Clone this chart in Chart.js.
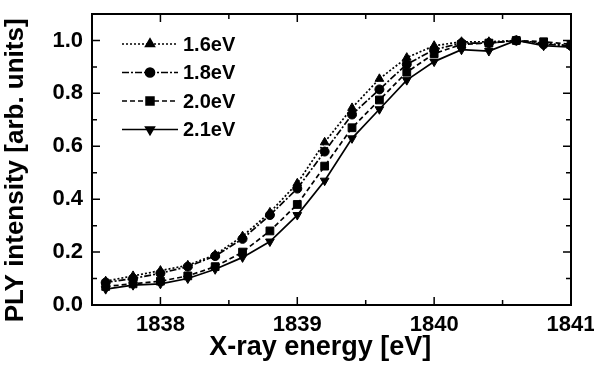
<!DOCTYPE html>
<html>
<head>
<meta charset="utf-8">
<script src="https://cdn.jsdelivr.net/npm/chart.js@4.4.0/dist/chart.umd.min.js"></script>
<style>
  html, body { margin: 0; padding: 0; background: #fff; }
  #wrap { width: 594px; height: 366px; }
</style>
</head>
<body>
<div id="wrap"><canvas id="plyChart"></canvas></div>
<script>
// X-ray energy [eV]
var energies = [1837.6, 1837.8, 1838.0, 1838.2, 1838.4, 1838.6, 1838.8, 1839.0, 1839.2,
                1839.4, 1839.6, 1839.8, 1840.0, 1840.2, 1840.4, 1840.6, 1840.8, 1841.0];

// PLY intensity per excitation energy
var ply16 = [0.09, 0.11, 0.13, 0.15, 0.19, 0.26, 0.35, 0.46, 0.615, 0.745, 0.855, 0.935, 0.98, 0.995, 0.995, 1.0, 0.99, 0.98];
var ply18 = [0.085, 0.10, 0.12, 0.145, 0.185, 0.25, 0.34, 0.44, 0.58, 0.72, 0.815, 0.91, 0.965, 0.99, 0.99, 1.0, 0.985, 0.98];
var ply20 = [0.07, 0.08, 0.09, 0.11, 0.145, 0.20, 0.28, 0.38, 0.525, 0.67, 0.775, 0.88, 0.95, 0.985, 0.99, 1.0, 0.995, 0.985];
var ply21 = [0.06, 0.075, 0.08, 0.10, 0.135, 0.18, 0.24, 0.34, 0.47, 0.63, 0.74, 0.85, 0.92, 0.965, 0.96, 1.0, 0.98, 0.975];

var seriesLabels = ["1.6eV", "1.8eV", "2.0eV", "2.1eV"];

// tick labels
var xTicks = [1838, 1839, 1840, 1841];
var yTicks = [0.0, 0.2, 0.4, 0.6, 0.8, 1.0];

function pts(ys) {
    return energies.map(function(e, i) { return { x: e, y: ys[i] }; });
}

var styles = [
    { dash: [2, 2], point: 'triangle', rot: 0, r: 5 },
    { dash: [7, 2, 2, 2], point: 'circle', rot: 0, r: 4.5 },
    { dash: [5, 3], point: 'rect', rot: 0, r: 5.5 },
    { dash: [], point: 'triangle', rot: 180, r: 5 }
];
var allSeries = [ply16, ply18, ply20, ply21];

var datasets = allSeries.map(function(s, i) {
    return {
        label: seriesLabels[i],
        data: pts(s),
        borderColor: '#000',
        backgroundColor: '#000',
        borderWidth: 1.7,
        borderDash: styles[i].dash,
        pointStyle: styles[i].point,
        pointRotation: styles[i].rot,
        pointRadius: styles[i].r,
        pointBorderWidth: 1,
        pointBorderColor: '#000',
        pointBackgroundColor: '#000',
        tension: 0
    };
});

// inward ticks on all four sides + frame
var frameTicks = {
    id: 'frameTicks',
    afterDraw: function(chart) {
        var ctx = chart.ctx, a = chart.chartArea;
        var xs = chart.scales.x, ys = chart.scales.y;
        ctx.save();
        ctx.strokeStyle = '#000';
        ctx.setLineDash([]);
        ctx.lineWidth = 1.5;
        var v, p, len;
        for (v = 1837.5; v <= 1841.001; v += 0.5) {
            p = xs.getPixelForValue(v);
            len = (Math.abs(v - Math.round(v)) < 0.01) ? 8 : 5;
            ctx.beginPath();
            ctx.moveTo(p, a.bottom); ctx.lineTo(p, a.bottom - len);
            ctx.moveTo(p, a.top); ctx.lineTo(p, a.top + len);
            ctx.stroke();
        }
        for (v = 0; v <= 1.1001; v += 0.1) {
            p = ys.getPixelForValue(v);
            len = (Math.round(v * 10) % 2 === 0) ? 8 : 5;
            ctx.beginPath();
            ctx.moveTo(a.left, p); ctx.lineTo(a.left + len, p);
            ctx.moveTo(a.right, p); ctx.lineTo(a.right - len, p);
            ctx.stroke();
        }
        ctx.lineWidth = 2;
        ctx.strokeRect(a.left, a.top, a.right - a.left, a.bottom - a.top);
        ctx.restore();
    }
};

// legend: dashed line with marker, inside the plot
var lineLegend = {
    id: 'lineLegend',
    afterDraw: function(chart) {
        var ctx = chart.ctx, a = chart.chartArea;
        ctx.save();
        ctx.font = 'bold 20px "Liberation Sans", Arial, sans-serif';
        ctx.textBaseline = 'middle';
        ctx.fillStyle = '#000';
        chart.data.datasets.forEach(function(ds, i) {
            var y = a.top + 30 + i * 28.5;
            var x0 = a.left + 30, x1 = a.left + 86;
            ctx.strokeStyle = '#000';
            ctx.lineWidth = 1.7;
            ctx.setLineDash(ds.borderDash);
            ctx.beginPath();
            ctx.moveTo(x0, y); ctx.lineTo(x1, y);
            ctx.stroke();
            ctx.setLineDash([]);
            Chart.helpers.drawPoint(ctx, {
                pointStyle: ds.pointStyle, rotation: ds.pointRotation,
                radius: ds.pointRadius, borderWidth: 1
            }, (x0 + x1) / 2, y);
            ctx.fillText(ds.label, x1 + 5, y + 1);
        });
        ctx.restore();
    }
};

function noPad(scale) {
    scale.paddingTop = 0;
    scale.paddingBottom = 0;
    scale.paddingLeft = 0;
    scale.paddingRight = 0;
}

new Chart(document.getElementById('plyChart'), {
    type: 'line',
    data: { datasets: datasets },
    plugins: [frameTicks, lineLegend],
    options: {
        responsive: true,
        maintainAspectRatio: false,
        animation: false,
        layout: { padding: { top: 14, right: 23, left: 0, bottom: 0 } },
        plugins: { legend: { display: false }, tooltip: { enabled: false } },
        scales: {
            x: {
                type: 'linear',
                min: 1837.5,
                max: 1841,
                afterBuildTicks: function(scale) {
                    scale.ticks = xTicks.map(function(v) { return { value: v }; });
                },
                grid: { display: false, drawTicks: false },
                border: { display: false },
                ticks: {
                    color: '#000',
                    padding: 7,
                    maxRotation: 0,
                    font: { family: '"Liberation Sans", Arial, sans-serif', size: 22, weight: 'bold' },
                    callback: function(v) { return String(v); }
                },
                title: {
                    display: true,
                    text: 'X-ray energy [eV]   ',
                    color: '#000',
                    padding: { top: 1, bottom: 2 },
                    font: { family: '"Liberation Sans", Arial, sans-serif', size: 27, weight: 'bold' }
                },
                afterFit: function(scale) { scale.height = 61; noPad(scale); }
            },
            y: {
                min: 0,
                max: 1.1,
                afterBuildTicks: function(scale) {
                    scale.ticks = yTicks.map(function(v) { return { value: v }; });
                },
                grid: { display: false, drawTicks: false },
                border: { display: false },
                ticks: {
                    color: '#000',
                    padding: 9,
                    font: { family: '"Liberation Sans", Arial, sans-serif', size: 22, weight: 'bold' },
                    callback: function(v) { return Number(v).toFixed(1); }
                },
                title: {
                    display: true,
                    text: 'PLY intensity [arb. units]   ',
                    color: '#000',
                    padding: { top: 0, bottom: 4 },
                    font: { family: '"Liberation Sans", Arial, sans-serif', size: 26, weight: 'bold' }
                },
                afterFit: function(scale) { scale.width = 92; noPad(scale); }
            }
        }
    }
});
</script>
</body>
</html>
